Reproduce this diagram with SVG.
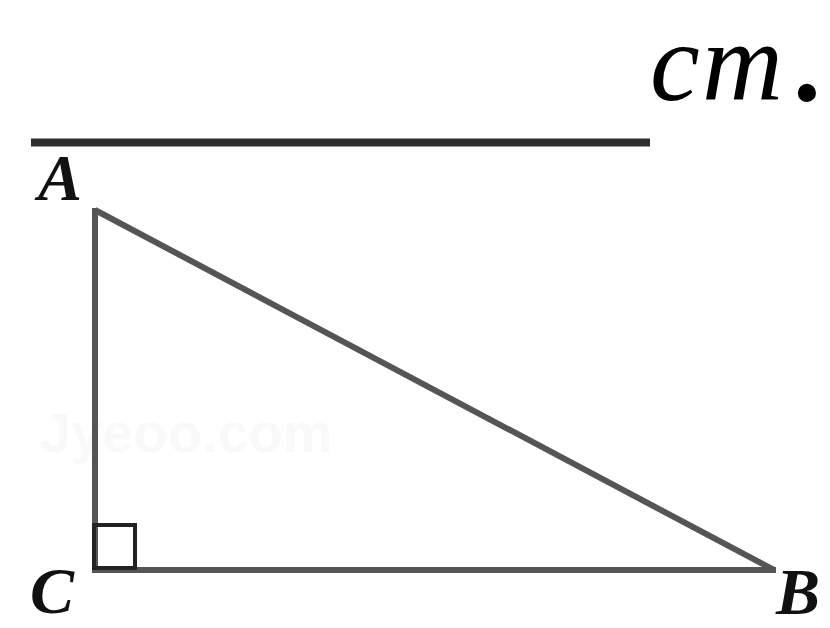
<svg xmlns="http://www.w3.org/2000/svg" width="830" height="628" viewBox="0 0 830 628">
<style>
.lbl{font-family:"Liberation Serif","Times New Roman",serif;font-style:italic;font-weight:bold;font-size:66px;fill:#111}
.edge{stroke:#555;stroke-width:6;fill:none;stroke-linecap:butt}
</style>
<rect width="830" height="628" fill="#fff"/>
<text y="100" font-family="Liberation Serif, serif" font-style="italic" font-size="112" fill="#000"><tspan x="650" textLength="133" lengthAdjust="spacing">cm</tspan><tspan x="797" font-weight="bold" font-size="112">.</tspan></text>
<line x1="31" y1="142.5" x2="650" y2="142.5" stroke="#2e2e2e" stroke-width="8"/>
<text x="40" y="452" font-family="Liberation Sans, sans-serif" font-weight="bold" font-size="56" fill="#fbf8f8">Jyeoo.com</text>
<g id="connectors">
<line class="edge" x1="95" y1="208" x2="95" y2="570"/>
<line class="edge" x1="92" y1="570" x2="776" y2="570"/>
<line class="edge" x1="95" y1="210" x2="774" y2="570" stroke="#3a3a3a"/>
</g>
<g id="rightangle">
<rect x="94" y="525" width="41" height="43" fill="none" stroke="#222" stroke-width="4"/>
</g>
<g id="A"><text class="lbl" x="38" y="200">A</text></g>
<g id="C"><text class="lbl" x="30" y="613">C</text></g>
<g id="B"><text class="lbl" x="776" y="614">B</text></g>
</svg>
